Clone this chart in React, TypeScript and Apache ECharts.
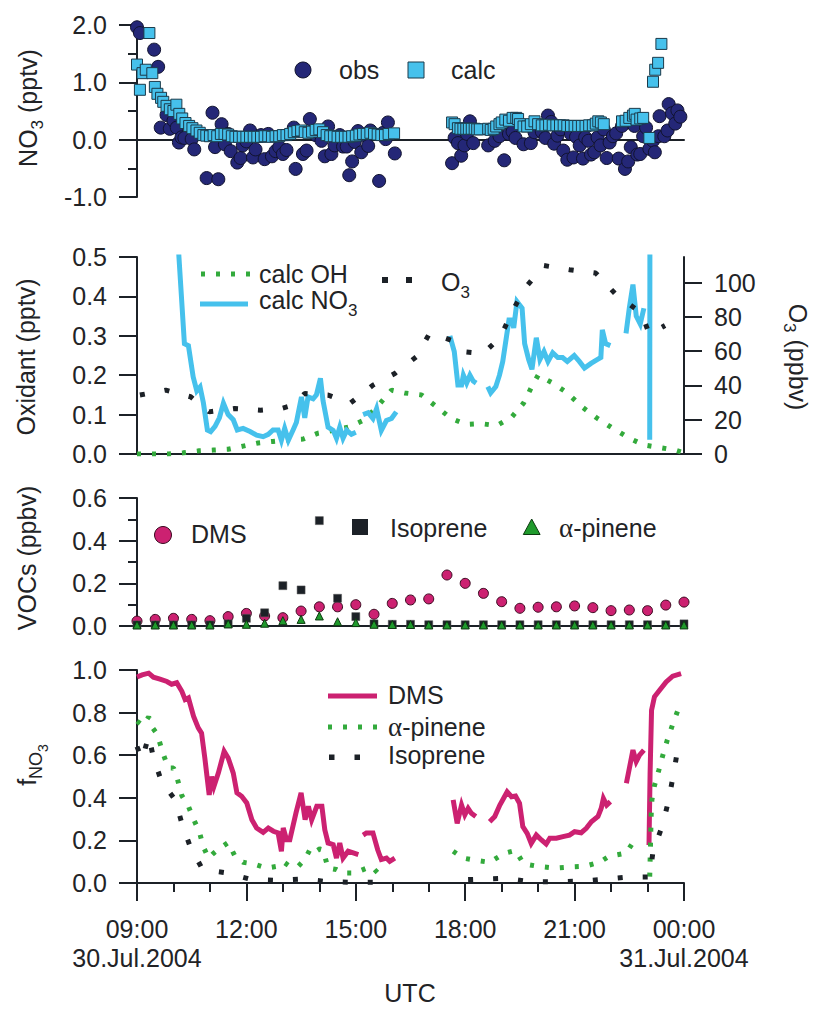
import React, { useEffect, useRef } from 'react';
import * as echarts from 'echarts';

type P = [number, number];

const FONT = '"Liberation Sans", Arial, Helvetica, sans-serif';
const SERIF = '"Liberation Serif", "Times New Roman", serif';
const TEXT = '#222326';
const DARK = '#1c2127';
const NAVY = '#242777';
const BLUE = '#46c1ec';
const PINK = '#cc2171';
const GREEN = '#33aa3c';
const TRI = '#1f9a2c';

// time axis: hours after 09:00 UTC, 30.Jul.2004
const timeLabels = ['09:00\n30.Jul.2004', '12:00', '15:00', '18:00', '21:00', '00:00\n31.Jul.2004'];
const o3TickValues = [0, 20, 40, 60, 80, 100];

// ---------- Panel 1: NO3 (pptv) ----------
const no3Obs: P[] = [
  [0, 1.96], [0.08, 1.86], [0.47, 1.57], [0.58, 1.27], [0.65, 0.21], [0.81, 0.43], [0.9, 0.19], [1.0, 0.33],
  [1.09, 0.21], [1.15, -0.05], [1.22, 0.04], [1.3, 0.03], [1.5, 0.01], [1.57, -0.17], [1.91, -0.67], [2.07, 0.47],
  [2.14, -0.13], [2.23, -0.69], [2.32, 0.27], [2.41, -0.08], [2.5, 0.1], [2.57, -0.2], [2.75, -0.4], [2.84, -0.32],
  [2.9, -0.1], [3.0, -0.03], [3.1, 0.16], [3.18, -0.31], [3.25, -0.17], [3.4, 0.08], [3.5, -0.34], [3.6, 0.1],
  [3.7, -0.29], [3.8, -0.2], [3.9, -0.13], [4.0, -0.25], [4.1, -0.18], [4.3, 0.21], [4.35, -0.51], [4.55, -0.25],
  [4.65, -0.19], [4.74, 0.36], [4.9, 0.08], [5.06, -0.02], [5.15, -0.29], [5.24, 0.23], [5.33, -0.25], [5.42, -0.1],
  [5.56, 0.08], [5.65, -0.12], [5.75, -0.12], [5.82, -0.62], [5.9, -0.38], [5.97, -0.04], [6.06, 0.15], [6.15, -0.22],
  [6.27, 0.06], [6.34, -0.11], [6.4, 0.16], [6.64, -0.72], [6.75, 0.12], [6.82, 0.01], [6.88, 0.3], [7.07, -0.24],
  [8.64, -0.41], [8.71, 0.03], [8.8, -0.06], [8.89, -0.28], [8.98, -0.1], [9.05, 0.1], [9.13, 0.32], [9.22, -0.06],
  [9.63, -0.1], [9.81, -0.02], [9.94, 0.06], [10.07, -0.36], [10.2, 0.1], [10.3, 0.14], [10.38, 0.03], [10.6, -0.08],
  [10.8, -0.06], [10.9, 0.13], [11.1, 0.14], [11.2, 0.03], [11.27, 0.42], [11.36, 0.31], [11.44, -0.07], [11.53, 0.07],
  [11.62, 0.18], [11.69, -0.19], [11.8, -0.35], [11.9, 0.1], [11.97, -0.31], [12.04, 0.05], [12.14, -0.1], [12.23, -0.33],
  [12.29, 0.04], [12.38, -0.02], [12.45, -0.26], [12.54, -0.22], [12.63, 0.04], [12.71, -0.1], [12.8, 0.18], [12.88, -0.32],
  [12.96, -0.05], [13.05, 0.06], [13.14, 0.11], [13.21, -0.33], [13.3, 0.24], [13.38, -0.51], [13.47, -0.38], [13.54, -0.13],
  [13.64, 0.24], [13.72, -0.26], [13.8, -0.25], [13.88, 0.06], [13.96, 0.21], [14.05, -0.16], [14.15, -0.02], [14.2, -0.22],
  [14.3, 0.06], [14.33, 0.41], [14.46, 0.06], [14.55, 0.16], [14.58, 0.62], [14.67, 0.46], [14.76, 0.28], [14.82, 0.51],
  [14.9, 0.4],
];

const no3Calc: P[] = [
  [0, 1.31], [0.08, 0.87], [0.15, 1.16], [0.24, 1.22], [0.34, 1.86], [0.42, 1.16], [0.49, 0.92], [0.56, 0.8],
  [0.66, 0.73], [0.72, 0.66], [0.81, 0.59], [0.9, 0.53], [1.0, 0.5], [1.08, 0.61], [1.16, 0.45], [1.24, 0.37],
  [1.33, 0.29], [1.43, 0.24], [1.52, 0.2], [1.63, 0.16], [1.72, 0.12], [1.82, 0.08], [1.9, 0.07], [2.0, 0.06],
  [2.1, 0.08], [2.2, 0.06], [2.3, 0.1], [2.4, 0.1], [2.5, 0.09], [2.6, 0.06], [2.7, 0.05], [2.8, 0.05],
  [2.9, 0.05], [3.0, 0.05], [3.1, 0.05], [3.2, 0.05], [3.3, 0.05], [3.4, 0.05], [3.5, 0.06], [3.6, 0.06],
  [3.7, 0.05], [3.8, 0.06], [3.9, 0.06], [4.0, 0.08], [4.1, 0.08], [4.2, 0.1], [4.3, 0.13], [4.4, 0.15],
  [4.5, 0.16], [4.6, 0.13], [4.7, 0.12], [4.8, 0.14], [4.9, 0.17], [5.0, 0.18], [5.1, 0.13], [5.2, 0.08],
  [5.3, 0.06], [5.4, 0.06], [5.5, 0.05], [5.6, 0.05], [5.7, 0.05], [5.8, 0.05], [5.9, 0.06], [6.0, 0.07],
  [6.1, 0.09], [6.2, 0.1], [6.3, 0.1], [6.4, 0.12], [6.5, 0.1], [6.6, 0.09], [6.7, 0.08], [6.8, 0.08],
  [6.9, 0.1], [7.05, 0.11],
  [8.64, 0.3], [8.71, 0.27], [8.8, 0.2], [8.87, 0.19], [8.95, 0.19], [9.03, 0.19], [9.1, 0.19], [9.18, 0.19],
  [9.26, 0.19], [9.33, 0.18], [9.4, 0.18], [9.63, 0.19], [9.7, 0.17], [9.78, 0.19], [9.85, 0.23], [9.94, 0.27],
  [10.0, 0.3], [10.1, 0.35], [10.2, 0.33], [10.3, 0.38], [10.4, 0.38], [10.45, 0.36], [10.5, 0.27], [10.6, 0.23],
  [10.7, 0.23], [10.8, 0.27], [10.9, 0.32], [11.0, 0.27], [11.1, 0.25], [11.2, 0.25], [11.3, 0.26], [11.4, 0.25],
  [11.5, 0.25], [11.6, 0.25], [11.7, 0.25], [11.8, 0.24], [11.9, 0.24], [12.0, 0.24], [12.1, 0.24], [12.2, 0.24],
  [12.3, 0.24], [12.4, 0.25], [12.5, 0.25], [12.58, 0.28], [12.65, 0.32], [12.72, 0.3], [12.8, 0.27],
  [13.3, 0.32], [13.4, 0.33], [13.5, 0.38], [13.6, 0.42], [13.65, 0.45], [13.7, 0.35], [13.8, 0.37], [13.88, 0.38],
  [14.05, 0.03], [14.15, 1.01], [14.21, 1.22], [14.29, 1.34], [14.38, 1.67],
];

// ---------- Panel 2: Oxidants ----------
const calcOH: P[] = [
  [0, 0], [0.45, 0], [0.86, 0], [1.27, 0.003], [1.7, 0.008], [2.09, 0.01], [2.5, 0.012], [2.91, 0.02],
  [3.32, 0.028], [3.73, 0.032], [4.15, 0.036], [4.56, 0.038], [4.97, 0.053], [5.38, 0.06], [5.79, 0.068],
  [6.2, 0.085], [6.57, 0.118], [6.98, 0.162], [7.34, 0.155], [7.8, 0.15], [8.21, 0.12], [8.62, 0.09],
  [9.03, 0.075], [9.44, 0.077], [9.86, 0.072], [10.27, 0.093], [10.6, 0.129], [10.82, 0.17], [11.0, 0.2],
  [11.4, 0.18], [11.8, 0.155], [12.2, 0.12], [12.6, 0.092], [13.0, 0.068], [13.5, 0.04], [13.9, 0.023],
  [14.3, 0.017], [14.75, 0.01], [15, 0.003],
];

const calcNO3Seg1: P[] = [
  [1.12, 0.56], [1.15, 0.5], [1.3, 0.28], [1.41, 0.275], [1.54, 0.196], [1.64, 0.16], [1.73, 0.17], [1.82, 0.13],
  [1.93, 0.061], [2.02, 0.057], [2.14, 0.07], [2.26, 0.092], [2.37, 0.129], [2.5, 0.1], [2.64, 0.087], [2.75, 0.061],
  [2.91, 0.065], [3.1, 0.057], [3.28, 0.048], [3.46, 0.044], [3.6, 0.05], [3.73, 0.061], [3.87, 0.061], [3.96, 0.035],
  [4.05, 0.065], [4.15, 0.035], [4.28, 0.061], [4.37, 0.08], [4.51, 0.145], [4.6, 0.092], [4.69, 0.145], [4.83, 0.14],
  [4.92, 0.15], [5.03, 0.192], [5.1, 0.136], [5.24, 0.068], [5.38, 0.06], [5.47, 0.04], [5.56, 0.068], [5.65, 0.04],
  [5.75, 0.06], [5.88, 0.05], [6.0, 0.055],
];
const calcNO3Seg2: P[] = [
  [6.2, 0.1], [6.34, 0.105], [6.47, 0.09], [6.57, 0.115], [6.7, 0.06], [6.84, 0.085], [6.98, 0.09], [7.11, 0.107],
];
const calcNO3Seg3: P[] = [
  [8.58, 0.3], [8.7, 0.26], [8.8, 0.175], [8.9, 0.175], [8.95, 0.2], [9.04, 0.18], [9.13, 0.2], [9.22, 0.185], [9.3, 0.18],
];
const calcNO3Seg4: P[] = [
  [9.62, 0.171], [9.7, 0.155], [9.84, 0.171], [9.94, 0.2], [10.03, 0.235], [10.2, 0.34], [10.28, 0.34], [10.33, 0.32],
  [10.42, 0.387], [10.56, 0.37], [10.63, 0.28], [10.74, 0.24], [10.83, 0.215], [10.95, 0.295], [11.05, 0.24],
  [11.16, 0.26], [11.27, 0.235], [11.4, 0.257], [11.54, 0.245], [11.67, 0.245], [11.8, 0.235], [11.99, 0.25],
  [12.13, 0.235], [12.27, 0.218], [12.45, 0.23], [12.63, 0.24], [12.72, 0.245], [12.76, 0.315], [12.85, 0.28], [12.98, 0.275],
];
const calcNO3Seg5: P[] = [[13.41, 0.306], [13.5, 0.37], [13.6, 0.43], [13.69, 0.35], [13.8, 0.33], [13.9, 0.37]];
const calcNO3Seg6: P[] = [[14.06, 0.036], [14.07, 1.0]];

const o3: P[] = [
  [0.08, 34.4], [0.79, 37.3], [1.47, 33.4], [1.98, 24.6], [2.68, 26.6], [3.39, 25.6], [3.96, 26.6], [4.28, 28.5],
  [4.6, 35.3], [5.24, 34.4], [5.84, 29.5], [6.47, 40.2], [7.07, 47], [7.66, 56.7], [8.03, 70.7], [8.67, 66],
  [9.01, 59.6], [9.49, 58.6], [9.97, 68.3], [10.28, 82.9], [10.65, 97.1], [11.16, 110], [11.86, 107.6],
  [12.58, 105.6], [13.14, 93], [13.83, 82.3], [14.05, 70], [14.48, 75],
];

// ---------- Panel 3: VOCs (ppbv) ----------
const vocTimes = [0, 0.5, 1, 1.5, 2, 2.5, 3, 3.5, 4, 4.5, 5, 5.5, 6, 6.5, 7, 7.5, 8, 8.5, 9, 9.5, 10, 10.5, 11, 11.5, 12, 12.5, 13, 13.5, 14, 14.5, 15];
const vocDMS = [0.023, 0.031, 0.036, 0.031, 0.025, 0.044, 0.059, 0.047, 0.039, 0.07, 0.09, 0.09, 0.1, 0.055, 0.106, 0.122, 0.127, 0.239, 0.2, 0.153, 0.114, 0.083, 0.088, 0.09, 0.094, 0.086, 0.072, 0.075, 0.072, 0.098, 0.112];
const vocIsoprene = [0.005, 0.005, 0.005, 0.005, 0.005, 0.01, 0.036, 0.062, 0.189, 0.169, 0.494, 0.13, 0.044, 0.01, 0.008, 0.008, 0.006, 0.006, 0.006, 0.006, 0.006, 0.006, 0.006, 0.006, 0.006, 0.006, 0.006, 0.006, 0.006, 0.006, 0.01];
const vocPinene = [0.005, 0.005, 0.005, 0.005, 0.005, 0.01, 0.008, 0.013, 0.025, 0.031, 0.047, 0.02, 0.016, 0.008, 0.007, 0.007, 0.005, 0.005, 0.005, 0.005, 0.005, 0.005, 0.005, 0.005, 0.005, 0.005, 0.005, 0.005, 0.005, 0.005, 0.005];

// ---------- Panel 4: f_NO3 ----------
const fDMSSeg1: P[] = [
  [0, 0.967], [0.14, 0.977], [0.32, 0.985], [0.45, 0.966], [0.63, 0.957], [0.82, 0.946], [0.95, 0.933], [1.09, 0.94],
  [1.23, 0.9], [1.32, 0.861], [1.41, 0.869], [1.55, 0.783], [1.68, 0.728], [1.77, 0.704], [1.86, 0.587], [1.93, 0.485],
  [1.98, 0.413], [2.05, 0.5], [2.11, 0.454], [2.23, 0.516], [2.39, 0.618], [2.5, 0.587], [2.64, 0.516], [2.74, 0.423],
  [2.87, 0.407], [3.01, 0.376], [3.15, 0.297], [3.28, 0.258], [3.46, 0.238], [3.6, 0.258], [3.74, 0.243], [3.87, 0.235],
  [3.96, 0.149], [4.01, 0.258], [4.1, 0.203], [4.19, 0.203], [4.36, 0.329], [4.5, 0.423], [4.61, 0.297], [4.7, 0.36],
  [4.79, 0.297], [4.93, 0.36], [5.07, 0.36], [5.15, 0.25], [5.24, 0.188], [5.38, 0.18], [5.47, 0.117], [5.56, 0.188],
  [5.65, 0.117], [5.79, 0.149], [5.93, 0.141], [6.07, 0.133],
];
const fDMSSeg2: P[] = [[6.2, 0.225], [6.29, 0.235], [6.47, 0.235], [6.6, 0.156], [6.7, 0.11], [6.84, 0.117], [6.93, 0.102], [7.07, 0.117]];
const fDMSSeg3: P[] = [[8.67, 0.39], [8.78, 0.28], [8.9, 0.366], [8.99, 0.32], [9.08, 0.35], [9.17, 0.327], [9.29, 0.312]];
const fDMSSeg4: P[] = [
  [9.67, 0.288], [9.81, 0.312], [9.95, 0.366], [10.05, 0.397], [10.15, 0.428], [10.27, 0.405], [10.38, 0.408], [10.49, 0.374],
  [10.58, 0.265], [10.7, 0.233], [10.81, 0.186], [10.95, 0.225], [11.09, 0.202], [11.22, 0.183], [11.32, 0.21], [11.5, 0.21],
  [11.68, 0.218], [11.86, 0.225], [12.0, 0.241], [12.18, 0.236], [12.32, 0.257], [12.46, 0.288], [12.64, 0.312], [12.73, 0.351],
  [12.79, 0.397], [12.88, 0.366], [12.98, 0.382],
];
const fDMSSeg5: P[] = [[13.42, 0.468], [13.51, 0.546], [13.6, 0.624], [13.69, 0.57], [13.78, 0.6], [13.9, 0.624]];
const fDMSSeg6: P[] = [[14.04, 0.178], [14.07, 0.514], [14.11, 0.811], [14.19, 0.874], [14.33, 0.905], [14.51, 0.944], [14.69, 0.971], [14.92, 0.983]];

const fPineneSeg1: P[] = [
  [0, 0.76], [0.15, 0.74], [0.32, 0.78], [0.42, 0.73], [0.55, 0.7], [0.73, 0.6], [0.86, 0.54], [1.0, 0.54], [1.09, 0.5],
  [1.23, 0.41], [1.41, 0.36], [1.55, 0.3], [1.71, 0.24], [1.82, 0.17], [1.96, 0.117], [2.1, 0.14], [2.28, 0.164],
  [2.5, 0.19], [2.69, 0.125], [2.91, 0.097], [3.19, 0.09], [3.56, 0.07], [3.83, 0.078], [4.01, 0.1], [4.19, 0.078],
  [4.42, 0.078], [4.6, 0.11], [4.74, 0.156], [4.83, 0.14], [5.01, 0.16], [5.1, 0.156], [5.24, 0.07], [5.47, 0.063],
  [5.65, 0.047], [5.97, 0.047], [6.2, 0.063], [6.43, 0.078], [6.7, 0.03],
];
const fPineneSeg2: P[] = [
  [8.67, 0.149], [8.94, 0.117], [9.3, 0.106], [9.67, 0.097], [10.08, 0.14], [10.38, 0.153], [10.6, 0.09], [11.0, 0.078],
  [11.44, 0.07], [11.85, 0.075], [12.27, 0.078], [12.68, 0.097], [12.94, 0.125], [13.41, 0.14], [13.64, 0.2],
];
const fPineneSeg3: P[] = [
  [14.06, 0.03], [14.08, 0.17], [14.1, 0.32], [14.12, 0.39], [14.19, 0.457], [14.31, 0.53], [14.42, 0.6], [14.54, 0.67],
  [14.68, 0.74], [14.83, 0.81],
];

const fIsopreneSeg1: P[] = [
  [0, 0.64], [0.14, 0.58], [0.32, 0.69], [0.45, 0.59], [0.67, 0.477], [1.05, 0.39], [1.23, 0.28], [1.46, 0.17],
  [1.8, 0.063], [2.47, 0.047], [3.15, 0.016], [3.87, 0.0125], [4.56, 0.019], [5.24, 0.006], [5.95, 0.003], [6.81, 0.003],
];
const fIsopreneSeg2: P[] = [
  [9.08, 0.016], [10.11, 0.022], [10.81, 0.006], [11.5, 0.006], [12.2, 0.009], [12.9, 0.019], [13.41, 0.027],
  [14.06, 0.028], [14.15, 0.149], [14.41, 0.27], [14.58, 0.39], [14.71, 0.51], [14.83, 0.63],
];

// join segments with breaks
function withGaps(...segs: P[][]) {
  const out: any[] = [];
  segs.forEach((s, i) => {
    if (i > 0) out.push([s[0][0], '-']);
    s.forEach((p) => out.push(p));
  });
  return out;
}
const zip = (xs: number[], ys: number[]) => xs.map((x, i) => [x, ys[i]]);

const axisLineStyle = { color: DARK, width: 2 };
const labelBase = { color: TEXT, fontSize: 25, fontFamily: FONT };

function yAxis(gridIndex: number, min: number, max: number, interval: number, minorSplit: number, extra: any = {}) {
  return {
    type: 'value',
    gridIndex,
    min,
    max,
    interval,
    position: 'left',
    axisLine: { show: true, onZero: false, lineStyle: axisLineStyle },
    axisTick: { show: true, length: 18, inside: false, lineStyle: axisLineStyle },
    minorTick: { show: minorSplit > 0, splitNumber: minorSplit || 5, length: 9, lineStyle: axisLineStyle },
    axisLabel: { ...labelBase, margin: 30, formatter: (v: number) => v.toFixed(1) },
    splitLine: { show: false },
    minorSplitLine: { show: false },
    ...extra,
  };
}

function txt(x: number, y: number, text: string, o: any = {}) {
  return {
    type: 'text',
    x,
    y,
    rotation: o.rot || 0,
    silent: true,
    z: 100,
    style: {
      text,
      fill: TEXT,
      fontSize: o.size || 25,
      fontFamily: FONT,
      align: o.align || 'left',
      verticalAlign: 'middle',
      lineHeight: o.lh,
      rich: o.rich,
    },
  };
}

let measureCtx: CanvasRenderingContext2D | null = null;
function measure(t: string, size: number) {
  if (!measureCtx) measureCtx = document.createElement('canvas').getContext('2d');
  if (!measureCtx) return t.length * size * 0.55;
  measureCtx.font = `${size}px ${FONT}`;
  return measureCtx.measureText(t).width;
}

// text made of pieces (for subscripts); parts: [text, fontSize, downward shift]
function composite(x: number, y: number, rot: number, parts: [string, number, number][], center = true) {
  const widths = parts.map(([t, s]) => measure(t, s));
  const total = widths.reduce((a, b) => a + b, 0);
  let cur = center ? -total / 2 : 0;
  const children = parts.map(([t, s, dy], i) => {
    const el = {
      type: 'text',
      x: cur,
      y: dy,
      silent: true,
      style: { text: t, fontSize: s, fontFamily: FONT, fill: TEXT, align: 'left', verticalAlign: 'middle', lineHeight: s },
    };
    cur += widths[i];
    return el;
  });
  return { type: 'group', x, y, rotation: rot, silent: true, z: 100, children };
}

const alphaRich = { fontSize: 27, fontFamily: SERIF, fill: TEXT };

export default function App() {
  const ref = useRef<HTMLDivElement>(null);
  useEffect(() => {
    if (!ref.current) return;
    const chart = echarts.init(ref.current, undefined, { renderer: 'svg' });
    const gridBase = { left: 137, width: 547, outerBoundsMode: 'none', containLabel: false };
    const option: any = {
      animation: false,
      backgroundColor: '#ffffff',
      grid: [
        { ...gridBase, top: 25, height: 172 },
        { ...gridBase, top: 257, height: 197 },
        { ...gridBase, top: 498, height: 128 },
        { ...gridBase, top: 670, height: 213 },
      ],
      xAxis: [0, 1, 2, 3].map((i) => ({
        type: 'value',
        gridIndex: i,
        min: 0,
        max: 15,
        interval: 3,
        axisLine: { show: true, onZero: true, lineStyle: axisLineStyle },
        axisTick: { show: i === 3, length: 18, lineStyle: axisLineStyle },
        minorTick: { show: i === 3, splitNumber: 3, length: 9, lineStyle: axisLineStyle },
        axisLabel:
          i === 3
            ? { ...labelBase, margin: 31, lineHeight: 29, formatter: (v: number) => timeLabels[Math.round(v / 3)] ?? '' }
            : { show: false },
        splitLine: { show: false },
        minorSplitLine: { show: false },
      })),
      yAxis: [
        yAxis(0, -1, 2, 1, 2),
        yAxis(1, 0, 0.5, 0.1, 0),
        yAxis(1, 0, 115, 20, 0, {
          position: 'right',
          axisTick: { show: true, length: 18, lineStyle: axisLineStyle, customValues: o3TickValues },
          axisLabel: { ...labelBase, margin: 30, customValues: o3TickValues, formatter: (v: number) => String(v) },
        }),
        yAxis(2, 0, 0.6, 0.2, 2),
        yAxis(3, 0, 1.0, 0.2, 0),
      ],
      series: [
        // Panel 1
        {
          type: 'scatter', xAxisIndex: 0, yAxisIndex: 0, data: no3Obs, symbol: 'circle', symbolSize: 13,
          itemStyle: { color: NAVY, borderColor: '#11132e', borderWidth: 1, opacity: 1 }, z: 3,
        },
        {
          type: 'scatter', xAxisIndex: 0, yAxisIndex: 0, data: no3Calc, symbol: 'rect', symbolSize: 11,
          itemStyle: { color: BLUE, borderColor: '#1b3a4a', borderWidth: 1, opacity: 1 }, z: 4,
        },
        // Panel 2
        {
          type: 'line', xAxisIndex: 1, yAxisIndex: 1, data: calcOH, showSymbol: false, symbol: 'none',
          lineStyle: { color: GREEN, width: 5, type: [4, 11], cap: 'butt' }, z: 3,
        },
        {
          type: 'line', xAxisIndex: 1, yAxisIndex: 1,
          data: withGaps(calcNO3Seg1, calcNO3Seg2, calcNO3Seg3, calcNO3Seg4, calcNO3Seg5, calcNO3Seg6),
          showSymbol: false, symbol: 'none', connectNulls: false,
          lineStyle: { color: BLUE, width: 5, join: 'miter' }, z: 4,
        },
        {
          type: 'line', xAxisIndex: 1, yAxisIndex: 2, data: o3, showSymbol: false, symbol: 'none',
          lineStyle: { color: DARK, width: 5, type: [5, 20], cap: 'butt' }, z: 5,
        },
        // Panel 3
        {
          type: 'scatter', xAxisIndex: 2, yAxisIndex: 3, data: zip(vocTimes, vocDMS), symbol: 'circle', symbolSize: 10,
          itemStyle: { color: PINK, borderColor: '#3a0a20', borderWidth: 1, opacity: 1 }, z: 3,
        },
        {
          type: 'scatter', xAxisIndex: 2, yAxisIndex: 3, data: zip(vocTimes, vocIsoprene), symbol: 'rect', symbolSize: 8,
          itemStyle: { color: DARK, borderColor: '#555', borderWidth: 0.5, opacity: 1 }, z: 4,
        },
        {
          type: 'scatter', xAxisIndex: 2, yAxisIndex: 3, data: zip(vocTimes, vocPinene), symbol: 'triangle', symbolSize: 8,
          itemStyle: { color: TRI, borderColor: '#0c3a10', borderWidth: 1, opacity: 1 }, z: 5,
        },
        // Panel 4
        {
          type: 'line', xAxisIndex: 3, yAxisIndex: 4,
          data: withGaps(fDMSSeg1, fDMSSeg2, fDMSSeg3, fDMSSeg4, fDMSSeg5, fDMSSeg6),
          showSymbol: false, symbol: 'none', connectNulls: false,
          lineStyle: { color: PINK, width: 5, join: 'miter' }, z: 3,
        },
        {
          type: 'line', xAxisIndex: 3, yAxisIndex: 4, data: withGaps(fPineneSeg1, fPineneSeg2, fPineneSeg3),
          showSymbol: false, symbol: 'none', connectNulls: false,
          lineStyle: { color: GREEN, width: 5, type: [4, 11], cap: 'butt' }, z: 4,
        },
        {
          type: 'line', xAxisIndex: 3, yAxisIndex: 4, data: withGaps(fIsopreneSeg1, fIsopreneSeg2),
          showSymbol: false, symbol: 'none', connectNulls: false,
          lineStyle: { color: DARK, width: 5, type: [5, 20], cap: 'butt' }, z: 5,
        },
      ],
      graphic: [
        // axis titles
        composite(28, 108, Math.PI / 2, [['NO', 25, 0], ['3', 17, 9], [' (pptv)', 25, 0]]),
        txt(26, 357, 'Oxidant (pptv)', { rot: Math.PI / 2, align: 'center', lh: 25 }),
        txt(27, 558, 'VOCs (ppbv)', { rot: Math.PI / 2, align: 'center', lh: 25 }),
        composite(27, 765, Math.PI / 2, [['f', 25, 0], ['NO', 18, 9], ['3', 14, 16]]),
        composite(798, 357, -Math.PI / 2, [['O', 25, 0], ['3', 17, 9], [' (ppbv)', 25, 0]]),
        txt(410, 993, 'UTC', { align: 'center', lh: 22 }),
        // legend panel 1
        { type: 'circle', silent: true, z: 100, shape: { cx: 303, cy: 70, r: 8 }, style: { fill: NAVY, stroke: '#11132e', lineWidth: 1 } },
        txt(339, 70, 'obs'),
        { type: 'rect', silent: true, z: 100, shape: { x: 408, y: 62, width: 16, height: 16 }, style: { fill: BLUE, stroke: '#1b3a4a', lineWidth: 1 } },
        txt(451, 70, 'calc'),
        // legend panel 2
        { type: 'line', silent: true, z: 100, shape: { x1: 201, y1: 274, x2: 250, y2: 274 }, style: { stroke: GREEN, lineWidth: 5, lineDash: [4, 11] } },
        txt(259, 274, 'calc OH'),
        { type: 'line', silent: true, z: 100, shape: { x1: 200, y1: 304, x2: 248, y2: 304 }, style: { stroke: BLUE, lineWidth: 5 } },
        composite(259, 300, 0, [['calc NO', 25, 0], ['3', 17, 10]], false),
        { type: 'rect', silent: true, z: 100, shape: { x: 382, y: 277, width: 6, height: 6 }, style: { fill: DARK } },
        { type: 'rect', silent: true, z: 100, shape: { x: 406, y: 277, width: 6, height: 6 }, style: { fill: DARK } },
        composite(441, 282, 0, [['O', 25, 0], ['3', 17, 10]], false),
        // legend panel 3
        { type: 'circle', silent: true, z: 100, shape: { cx: 163, cy: 535, r: 8.5 }, style: { fill: PINK, stroke: '#3a0a20', lineWidth: 1 } },
        txt(191, 534, 'DMS'),
        { type: 'rect', silent: true, z: 100, shape: { x: 352, y: 519, width: 16, height: 16 }, style: { fill: DARK } },
        txt(390, 528, 'Isoprene'),
        { type: 'polygon', silent: true, z: 100, shape: { points: [[531.7, 519], [523.3, 534.5], [540.1, 534.5]] }, style: { fill: TRI, stroke: '#0c3a10', lineWidth: 1 } },
        txt(559, 528, '{al|α}-pinene', { rich: { al: alphaRich } }),
        // legend panel 4
        { type: 'line', silent: true, z: 100, shape: { x1: 328, y1: 696, x2: 377, y2: 696 }, style: { stroke: PINK, lineWidth: 5 } },
        txt(388, 695, 'DMS'),
        { type: 'line', silent: true, z: 100, shape: { x1: 328, y1: 727, x2: 378, y2: 727 }, style: { stroke: GREEN, lineWidth: 5, lineDash: [4, 11] } },
        txt(388, 727, '{al|α}-pinene', { rich: { al: alphaRich } }),
        { type: 'rect', silent: true, z: 100, shape: { x: 329, y: 754.5, width: 5.5, height: 5.5 }, style: { fill: DARK } },
        { type: 'rect', silent: true, z: 100, shape: { x: 354.5, y: 754.5, width: 5.5, height: 5.5 }, style: { fill: DARK } },
        txt(388, 755, 'Isoprene'),
      ],
    };
    chart.setOption(option);
    return () => chart.dispose();
  }, []);
  return (
    <div
      ref={ref}
      style={{ position: 'absolute', left: 0, top: 0, width: 814, height: 1009, background: '#fff' }}
    />
  );
}
